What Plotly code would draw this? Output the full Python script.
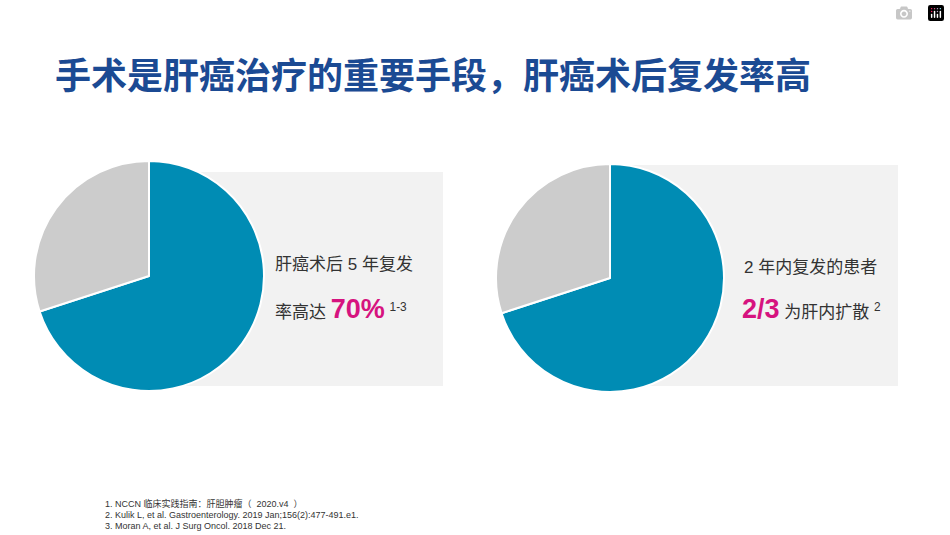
import plotly.graph_objects as go

labels = ["复发", "其他"]
pie1_values = [70, 30]
pie2_values = [70, 30]
title = "手术是肝癌治疗的重要手段，肝癌术后复发率高"
refs = ["1. NCCN 临床实践指南：肝胆肿瘤（  2020.v4  ）",
        "2. Kulik L, et al. Gastroenterology. 2019 Jan;156(2):477-491.e1.",
        "3. Moran A, et al. J Surg Oncol. 2018 Dec 21."]

W, H = 950, 535
def px(x0, x1): return [x0 / W, x1 / W]
def py(y0, y1): return [1 - y1 / H, 1 - y0 / H]

colors = ["#008CB4", "#CCCCCC"]
fig = go.Figure()
for vals, (cx, cy, r) in [(pie1_values, (149, 276, 115)), (pie2_values, (610, 278, 114))]:
    fig.add_trace(go.Pie(labels=labels, values=vals, sort=False, direction="clockwise",
                         rotation=0, textinfo="none", hoverinfo="label+percent",
                         marker=dict(colors=colors, line=dict(color="white", width=2)),
                         domain=dict(x=px(cx - r, cx + r), y=py(cy - r, cy + r)),
                         showlegend=False))

font = "Liberation Sans, Noto Sans CJK SC, sans-serif"
shapes = [
    dict(type="rect", xref="paper", yref="paper", x0=149 / W, x1=443 / W, y0=1 - 386 / H, y1=1 - 172 / H,
         fillcolor="#F2F2F2", line=dict(width=0), layer="below"),
    dict(type="rect", xref="paper", yref="paper", x0=605 / W, x1=898 / W, y0=1 - 386 / H, y1=1 - 165 / H,
         fillcolor="#F2F2F2", line=dict(width=0), layer="below"),
]
ann = [
    dict(x=53 / W, y=1 - 77 / H, text="<b>" + title + "</b>", font=dict(size=36, color="#1B4A93", family=font)),
    dict(x=273 / W, y=1 - 265 / H, text="肝癌术后 5 年复发", font=dict(size=17, color="#333333", family=font)),
    dict(x=273 / W, y=1 - 309 / H,
         text="率高达 <b><span style='color:#D6137F;font-size:27px'>70%</span></b> <sup>1-3</sup>",
         font=dict(size=17, color="#333333", family=font)),
    dict(x=742 / W, y=1 - 267 / H, text="2 年内复发的患者", font=dict(size=17, color="#333333", family=font)),
    dict(x=740 / W, y=1 - 309 / H,
         text="<b><span style='color:#D6137F;font-size:27px'>2/3</span></b> 为肝内扩散 <sup>2</sup>",
         font=dict(size=17, color="#333333", family=font)),
]
for i, t in enumerate(refs):
    ann.append(dict(x=103 / W, y=1 - (503 + i * 11.5) / H, text=t, font=dict(size=9, color="#333333", family=font)))
for a in ann:
    a.update(xref="paper", yref="paper", xanchor="left", yanchor="middle", showarrow=False)

fig.update_layout(width=W, height=H, margin=dict(l=0, r=0, t=0, b=0), paper_bgcolor="white",
                  plot_bgcolor="white", shapes=shapes, annotations=ann)
fig.write_html("out.html")
with open("out.html", encoding="utf-8") as f:
    html = f.read()
html = html.replace("<body>", "<body style=\"margin:0;overflow:hidden\">", 1)
with open("out.html", "w", encoding="utf-8") as f:
    f.write(html)
